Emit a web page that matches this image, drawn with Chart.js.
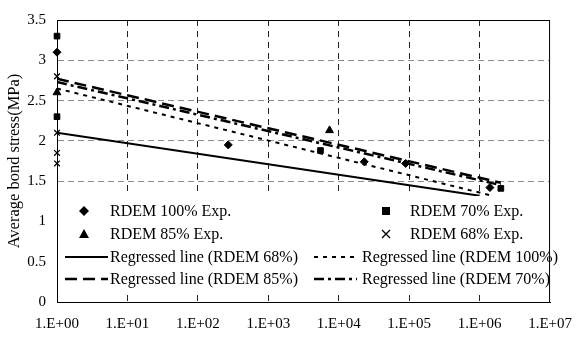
<!DOCTYPE html>
<html>
<head>
<meta charset="utf-8">
<script src="https://cdn.jsdelivr.net/npm/chart.js@4/dist/chart.umd.min.js"></script>
<style>
  html, body { margin: 0; padding: 0; background: #fff; }
  #wrap { width: 585px; height: 339px; }
</style>
</head>
<body>
<div id="wrap"><canvas id="chart" width="585" height="339"></canvas></div>
<script>
// experimental points (cycles, bond stress MPa)
const exp100X = [1, 270, 23000, 89000, 1.4e6];
const exp100Y = [3.1, 1.95, 1.74, 1.72, 1.42];
const exp70X = [1, 1, 5500, 2e6];
const exp70Y = [3.3, 2.3, 1.88, 1.41];
const exp85X = [1, 7400];
const exp85Y = [2.6, 2.13];
const exp68X = [1, 1, 1, 1];
const exp68Y = [2.8, 2.1, 1.85, 1.72];

// regressed lines, end points
const reg68X = [1, 1e6];
const reg68Y = [2.1, 1.32];
const reg100X = [1, 1.5e6];
const reg100Y = [2.65, 1.32];
const reg85X = [1, 2e6];
const reg85Y = [2.77, 1.48];
const reg70X = [1, 2e6];
const reg70Y = [2.73, 1.45];

const xTicks = [1, 10, 100, 1000, 1e4, 1e5, 1e6, 1e7];
const font = 'Liberation Serif, Times New Roman, serif';

let pts = (xs, ys) => xs.map((x, i) => ({x: x, y: ys[i]}));

function markerSet(label, xs, ys, style, r) {
  return {
    type: 'scatter', label: label, data: pts(xs, ys), showLine: false, clip: false,
    pointStyle: style, pointRadius: r, pointHoverRadius: r,
    backgroundColor: '#000', borderColor: '#000', borderWidth: style === 'crossRot' ? 1.3 : 1
  };
}
function lineSet(label, xs, ys, dash, w) {
  return {
    type: 'line', label: label, data: pts(xs, ys), pointRadius: 0, fill: false,
    borderColor: '#000', borderWidth: w, borderDash: dash, tension: 0
  };
}

const datasets = [
  lineSet('Regressed line (RDEM 68%)', reg68X, reg68Y, [], 2),
  lineSet('Regressed line (RDEM 100%)', reg100X, reg100Y, [4, 5], 2),
  lineSet('Regressed line (RDEM 85%)', reg85X, reg85Y, [12, 6], 2.5),
  lineSet('Regressed line (RDEM 70%)', reg70X, reg70Y, [10, 4, 3, 4], 2.5),
  markerSet('RDEM 100% Exp.', exp100X, exp100Y, 'rectRot', 4),
  markerSet('RDEM 70% Exp.', exp70X, exp70Y, 'rect', 4),
  markerSet('RDEM 85% Exp.', exp85X, exp85Y, 'triangle', 4.5),
  markerSet('RDEM 68% Exp.', exp68X, exp68Y, 'crossRot', 4)
];

// legend inside the plot, two columns
const legendRows = [
  [{label: 'RDEM 100% Exp.', marker: 'diamond', mx: 84, tx: 110}, {label: 'RDEM 70% Exp.', marker: 'square', mx: 386, tx: 410}],
  [{label: 'RDEM 85% Exp.', marker: 'triangle', mx: 84, tx: 110}, {label: 'RDEM 68% Exp.', marker: 'cross', mx: 386, tx: 410}],
  [{label: 'Regressed line (RDEM 68%)', dash: [], w: 2, lx: 65, tx: 110}, {label: 'Regressed line (RDEM 100%)', dash: [4, 5], w: 2, lx: 314, tx: 362}],
  [{label: 'Regressed line (RDEM 85%)', dash: [12, 6], w: 2.5, lx: 65, tx: 110}, {label: 'Regressed line (RDEM 70%)', dash: [10, 4, 3, 4], w: 2.5, lx: 314, tx: 362}]
];
const legendY = [211, 234, 257, 279];

function drawMarker(ctx, kind, x, y) {
  ctx.beginPath();
  if (kind === 'diamond') {
    ctx.moveTo(x, y - 5); ctx.lineTo(x + 5, y); ctx.lineTo(x, y + 5); ctx.lineTo(x - 5, y); ctx.closePath(); ctx.fill();
  } else if (kind === 'square') {
    ctx.fillRect(x - 4, y - 4, 8, 8);
  } else if (kind === 'triangle') {
    ctx.moveTo(x, y - 5); ctx.lineTo(x + 5, y + 4); ctx.lineTo(x - 5, y + 4); ctx.closePath(); ctx.fill();
  } else {
    ctx.lineWidth = 1.3;
    ctx.moveTo(x - 4, y - 4); ctx.lineTo(x + 4, y + 4); ctx.moveTo(x + 4, y - 4); ctx.lineTo(x - 4, y + 4); ctx.stroke();
  }
}

const framePlugin = {
  id: 'frame',
  afterDraw(chart) {
    const ctx = chart.ctx, a = chart.chartArea;
    ctx.save();
    // legend box
    ctx.fillStyle = '#fff';
    ctx.fillRect(a.left + 1, 196, a.right - a.left - 2, 99);
    ctx.fillStyle = '#000';
    ctx.strokeStyle = '#000';
    ctx.font = '16px ' + font;
    ctx.textBaseline = 'middle';
    legendRows.forEach((row, r) => {
      const y = legendY[r];
      row.forEach(it => {
        ctx.save();
        if (it.marker) {
          drawMarker(ctx, it.marker, it.mx, y);
        } else {
          ctx.lineWidth = it.w;
          ctx.setLineDash(it.dash);
          ctx.beginPath(); ctx.moveTo(it.lx, y); ctx.lineTo(it.lx + 43, y); ctx.stroke();
        }
        ctx.restore();
        ctx.fillText(it.label, it.tx, y + 1);
      });
    });
    // plot frame
    ctx.lineWidth = 1;
    ctx.setLineDash([]);
    ctx.strokeRect(a.left + 0.5, a.top + 0.5, a.right - a.left - 1, a.bottom - a.top);
    ctx.restore();
  }
};

new Chart(document.getElementById('chart'), {
  data: {datasets: datasets},
  options: {
    responsive: false,
    animation: false,
    layout: {padding: {top: 10, right: 25, left: 0, bottom: 0}},
    plugins: {legend: {display: false}, tooltip: {enabled: false}},
    scales: {
      x: {
        type: 'logarithmic', min: 1, max: 1e7,
        afterBuildTicks: s => { s.ticks = xTicks.map(v => ({value: v})); },
        afterFit: s => { s.height = 37; },
        ticks: {
          autoSkip: false, maxRotation: 0, padding: 13, color: '#000',
          font: {family: font, size: 15},
          callback: v => '1.E+' + String(Math.round(Math.log10(v))).padStart(2, '0')
        },
        grid: {color: c => (c.index === 0 || c.index === 7) ? 'transparent' : '#222', lineWidth: 1, drawTicks: false},
        border: {display: true, color: '#000', width: 1, dash: [6, 5]}
      },
      y: {
        min: 0, max: 3.5,
        afterFit: s => { s.width = 57; },
        ticks: {
          stepSize: 0.5, padding: 11, color: '#000',
          font: {family: font, size: 15},
          callback: v => String(v)
        },
        title: {display: true, text: 'Average bond stress(MPa)', color: '#000', font: {family: font, size: 16.5}, padding: {top: 5, bottom: 0}},
        grid: {color: c => (c.tick && (c.tick.value === 0 || c.tick.value === 3.5)) ? 'transparent' : '#8c8c8c', lineWidth: 1, drawTicks: false},
        border: {display: true, color: '#000', width: 1, dash: [6, 4]}
      }
    }
  },
  plugins: [framePlugin]
});
</script>
</body>
</html>
